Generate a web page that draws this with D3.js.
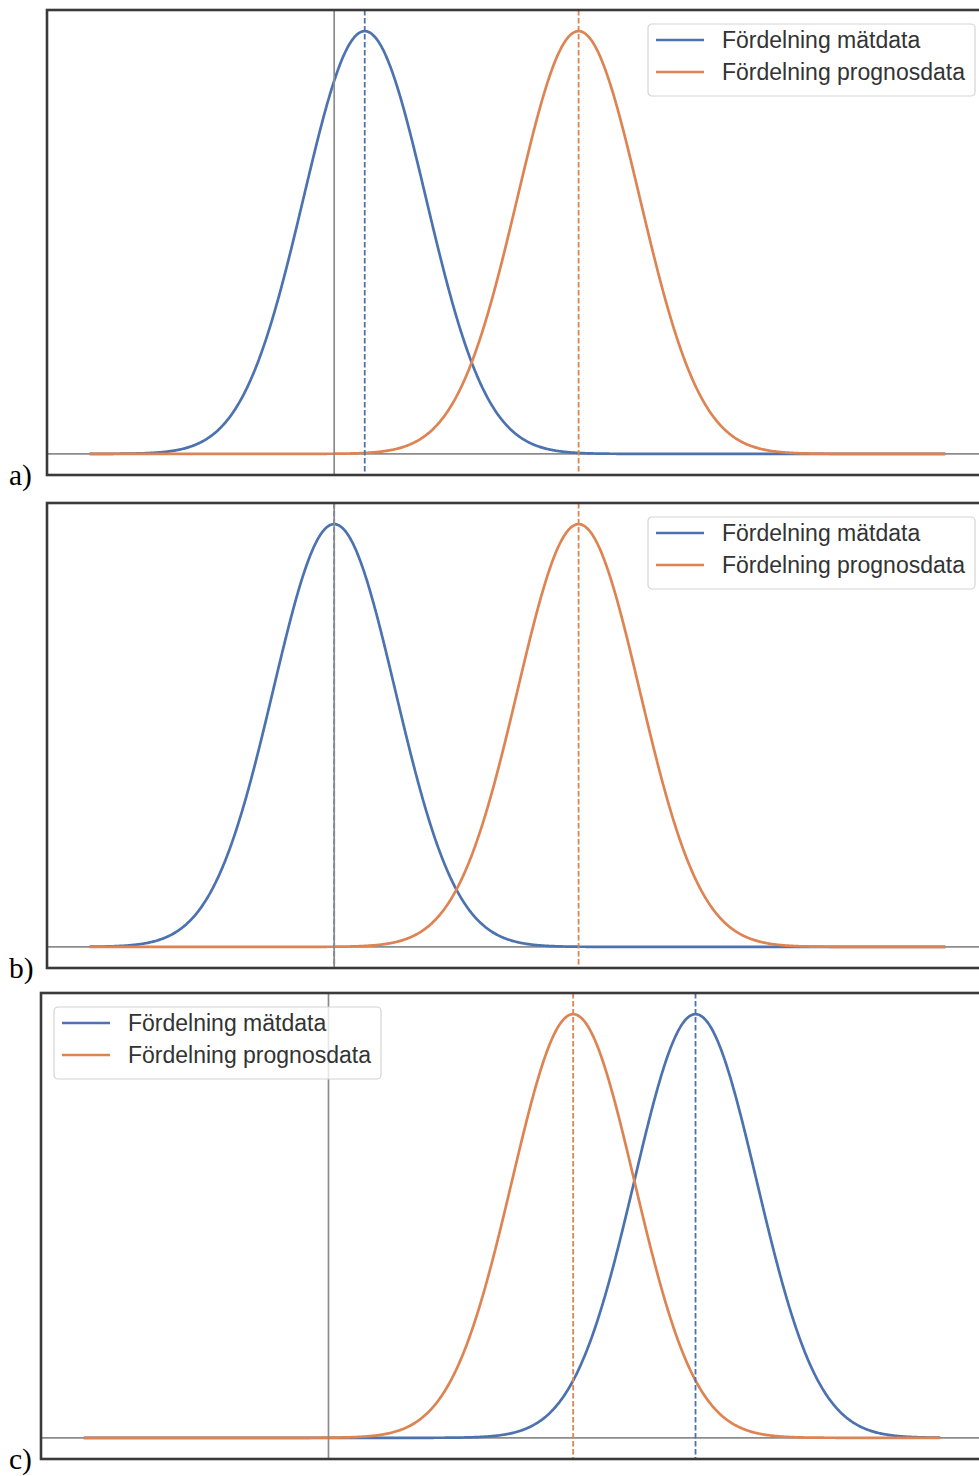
<!DOCTYPE html>
<html>
<head>
<meta charset="utf-8">
<script src="https://cdn.jsdelivr.net/npm/d3@7"></script>
<style>
  html, body { margin: 0; padding: 0; background: #ffffff; }
  svg { display: block; }
</style>
</head>
<body>
<svg id="chart" width="979" height="1476"></svg>
<script>
// Panel tags and the two series shown in every panel
const panelTags = ["a)", "b)", "c)"];
const seriesNames = ["Fördelning mätdata", "Fördelning prognosdata"];

// Normal distribution parameters per panel (same units on every x axis)
const measuredMean = [0.5, 0, 6];
const forecastMean = [4, 4, 4];
const measuredSd = [1, 1, 1];
const forecastSd = [1, 1, 1];

// Range over which the densities are evaluated, and the reference value
const xExtent = [-4, 10];
const referenceX = 0;

// Layout
const frames = [
  { left: 47, top: 10, right: 988, bottom: 475, legend: "right" },
  { left: 47, top: 503, right: 988, bottom: 968, legend: "right" },
  { left: 41, top: 993, right: 983, bottom: 1459, legend: "left" }
];
const colors = ["#4C72B0", "#DD8452"];
const textColor = "#333333";

const svg = d3.select("#chart");

const pdf = (x, mu, sd) => Math.exp(-0.5 * ((x - mu) / sd) ** 2) / (sd * Math.sqrt(2 * Math.PI));
const xs = d3.range(xExtent[0], xExtent[1] + 1e-9, (xExtent[1] - xExtent[0]) / 1000);

frames.forEach((f, i) => {
  const means = [measuredMean[i], forecastMean[i]];
  const sds = [measuredSd[i], forecastSd[i]];
  const series = means.map((mu, k) => xs.map(x => ({ x, y: pdf(x, mu, sds[k]) })));
  const yMax = d3.max(series.flat(), d => d.y);
  const xPad = (xExtent[1] - xExtent[0]) * 0.05;
  const x = d3.scaleLinear().domain([xExtent[0] - xPad, xExtent[1] + xPad]).range([f.left, f.right]);
  const y = d3.scaleLinear().domain([-0.05 * yMax, 1.05 * yMax]).range([f.bottom, f.top]);

  const g = svg.append("g");
  const clipId = "clip" + i;
  g.append("clipPath").attr("id", clipId)
    .append("rect").attr("x", f.left).attr("y", f.top)
    .attr("width", f.right - f.left).attr("height", f.bottom - f.top);
  const plot = g.append("g").attr("clip-path", `url(#${clipId})`);

  // zero baseline
  plot.append("line")
    .attr("x1", f.left).attr("x2", f.right)
    .attr("y1", y(0)).attr("y2", y(0))
    .attr("stroke", "#8c8c8c").attr("stroke-width", 1.7);

  // density curves
  const line = d3.line().x(d => x(d.x)).y(d => y(d.y));
  series.forEach((s, k) => {
    plot.append("path").datum(s)
      .attr("d", line).attr("fill", "none")
      .attr("stroke", colors[k]).attr("stroke-width", 2.7)
      .attr("stroke-linejoin", "round");
  });

  // dashed lines at the means
  means.forEach((mu, k) => {
    plot.append("line")
      .attr("x1", x(mu)).attr("x2", x(mu))
      .attr("y1", f.top).attr("y2", f.bottom)
      .attr("stroke", colors[k]).attr("stroke-width", 1.8)
      .attr("stroke-dasharray", "5.5,2.5");
  });

  // reference value line
  plot.append("line")
    .attr("x1", x(referenceX)).attr("x2", x(referenceX))
    .attr("y1", f.top).attr("y2", f.bottom)
    .attr("stroke", "#8c8c8c").attr("stroke-width", 1.7);

  // frame
  g.append("rect")
    .attr("x", f.left).attr("y", f.top)
    .attr("width", f.right - f.left).attr("height", f.bottom - f.top)
    .attr("fill", "none").attr("stroke", "#3a3a3a").attr("stroke-width", 2.6);

  // legend
  const lw = 327, lh = 72;
  const lx = f.legend === "right" ? f.right - 13 - lw : f.left + 13;
  const ly = f.top + 14;
  const leg = g.append("g").attr("transform", `translate(${lx},${ly})`);
  leg.append("rect")
    .attr("x", 0).attr("y", 0).attr("width", lw).attr("height", lh)
    .attr("rx", 4).attr("ry", 4)
    .attr("fill", "#ffffff").attr("fill-opacity", 0.8)
    .attr("stroke", "#d4d4d4").attr("stroke-width", 1.2);
  seriesNames.forEach((name, k) => {
    const cy = 16 + k * 32;
    leg.append("line")
      .attr("x1", 8).attr("x2", 56).attr("y1", cy).attr("y2", cy)
      .attr("stroke", colors[k]).attr("stroke-width", 2.7);
    leg.append("text")
      .attr("x", 74).attr("y", cy)
      .attr("dy", "0.36em")
      .attr("font-family", "'Liberation Sans', Arial, sans-serif")
      .attr("font-size", 23)
      .attr("fill", textColor)
      .text(name);
  });

  // panel tag
  svg.append("text")
    .attr("x", 9).attr("y", f.bottom + 10)
    .attr("font-family", "'Liberation Serif', 'Times New Roman', serif")
    .attr("font-size", 29.5)
    .attr("fill", "#000000")
    .text(panelTags[i]);
});
</script>
</body>
</html>
